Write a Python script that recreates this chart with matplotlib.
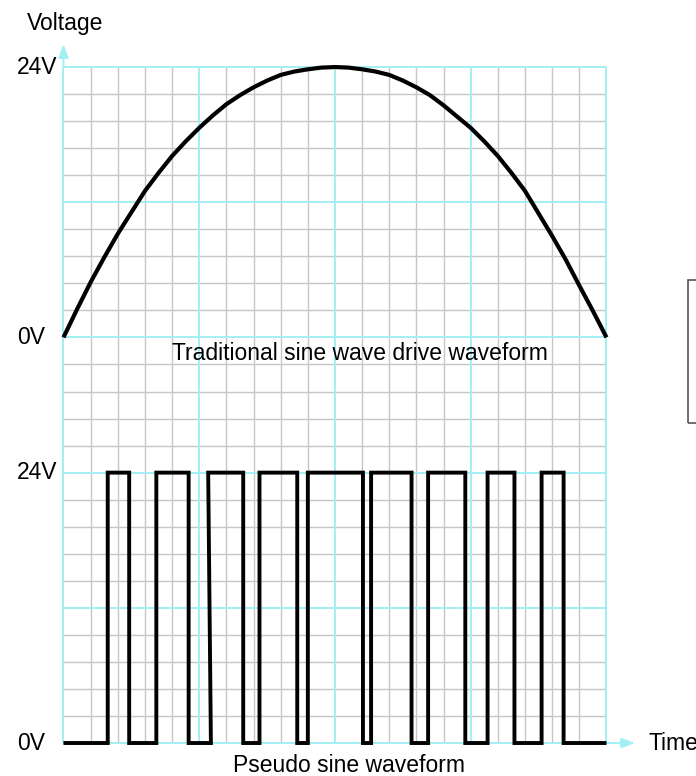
import numpy as np
import matplotlib.pyplot as plt
from matplotlib.patches import Rectangle

plt.rcParams['font.family'] = ['Liberation Sans', 'DejaVu Sans']

# Time positions (every half grid column) and voltage of the drive curve
t_grid = [i / 2 for i in range(41)]
sine_volts = [0, 2.5, 4.9, 7.1, 9.2, 11.1, 13.0, 14.6, 16.1, 17.4,
              18.6, 19.7, 20.7, 21.5, 22.2, 22.8, 23.3, 23.6, 23.8, 23.95,
              24.0,
              23.95, 23.8, 23.6, 23.3, 22.8, 22.2, 21.5, 20.6, 19.6,
              18.6, 17.4, 16.1, 14.6, 13.0, 11.0, 9.0, 6.9, 4.6, 2.35, 0]

# Pseudo sine pulses: rising edge (bottom / top), falling edge, in grid units
rise_bottom = [1.63, 3.42, 5.43, 7.22, 9.00, 11.33, 13.43, 15.62, 17.61]
rise_top = [1.63, 3.42, 5.33, 7.22, 9.00, 11.33, 13.43, 15.62, 17.61]
fall = [2.42, 4.61, 6.62, 8.61, 11.03, 12.82, 14.80, 16.61, 18.42]
v_high = 24
t_end = 20

cyan = '#a2eff4'
gray = '#c6c6c6'

fig = plt.figure(figsize=(6.96, 7.76), dpi=100)
ax = fig.add_axes([0.0912, 0.0425, 0.7802, 0.8711])
ax.set_xlim(0, 20)
ax.set_ylim(0, 25)
ax.axis('off')

# grid: gray every cell, cyan every 5 cells
for x in range(21):
    if x % 5:
        ax.vlines(x, 0, 25, color=gray, lw=1.0, zorder=1, clip_on=False)
for y in range(26):
    if y % 5:
        ax.hlines(y, 0, 20, color=gray, lw=1.0, zorder=1, clip_on=False)
for x in range(0, 21, 5):
    ax.vlines(x, 0, 25, color=cyan, lw=1.4, zorder=2, clip_on=False)
for y in range(0, 26, 5):
    ax.hlines(y, 0, 20, color=cyan, lw=1.4, zorder=2, clip_on=False)

# axis arrows
ax.annotate('', xy=(0, 25.95), xytext=(0, 24.9), annotation_clip=False,
            arrowprops=dict(arrowstyle='-|>,head_length=0.8,head_width=0.3',
                            color=cyan, lw=1.4))
ax.annotate('', xy=(21.15, 0), xytext=(19.9, 0), annotation_clip=False,
            arrowprops=dict(arrowstyle='-|>,head_length=0.8,head_width=0.3',
                            color=cyan, lw=1.4))

# traditional sine drive, sitting between rows 15 and 25
sine_y = [15 + v / 24 * 10 for v in sine_volts]
ax.plot(t_grid, sine_y, color='black', lw=3.0, zorder=5,
        solid_capstyle='butt', solid_joinstyle='round', clip_on=False)

# pseudo sine pulse train, rows 0 to 10
px, py = [0], [0]
for rb, rt, f in zip(rise_bottom, rise_top, fall):
    px += [rb, rt, f, f]
    py += [0, v_high, v_high, 0]
px.append(t_end)
py.append(0)
py = [v / 24 * 10 for v in py]
ax.plot(px, py, color='black', lw=2.8, zorder=5, solid_joinstyle='miter',
        solid_capstyle='butt', clip_on=False)

fs = 16.5
ax.text(-1.72, 25, '24V', fontsize=fs, ha='left', va='center')
ax.text(-1.72, 15, '0V', fontsize=fs, ha='left', va='center')
ax.text(-1.72, 10, '24V', fontsize=fs, ha='left', va='center')
ax.text(-1.72, 0, '0V', fontsize=fs, ha='left', va='center')
ax.text(4.0, 14.42, 'Traditional sine wave drive waveform', fontsize=fs,
        ha='left', va='center')
ax.text(6.23, -0.82, 'Pseudo sine waveform', fontsize=fs, ha='left', va='center')
ax.text(21.53, 0, 'Time', fontsize=fs, ha='left', va='center')
ax.text(-1.35, 26.62, 'Voltage', fontsize=fs, ha='left', va='center')

# empty box on the right edge
fig.patches.append(Rectangle((688 / 696, 1 - 423 / 776), 0.05, 143 / 776,
                             transform=fig.transFigure, fill=False,
                             edgecolor='#555555', lw=1.2))

fig.savefig('out.png', dpi=100)
